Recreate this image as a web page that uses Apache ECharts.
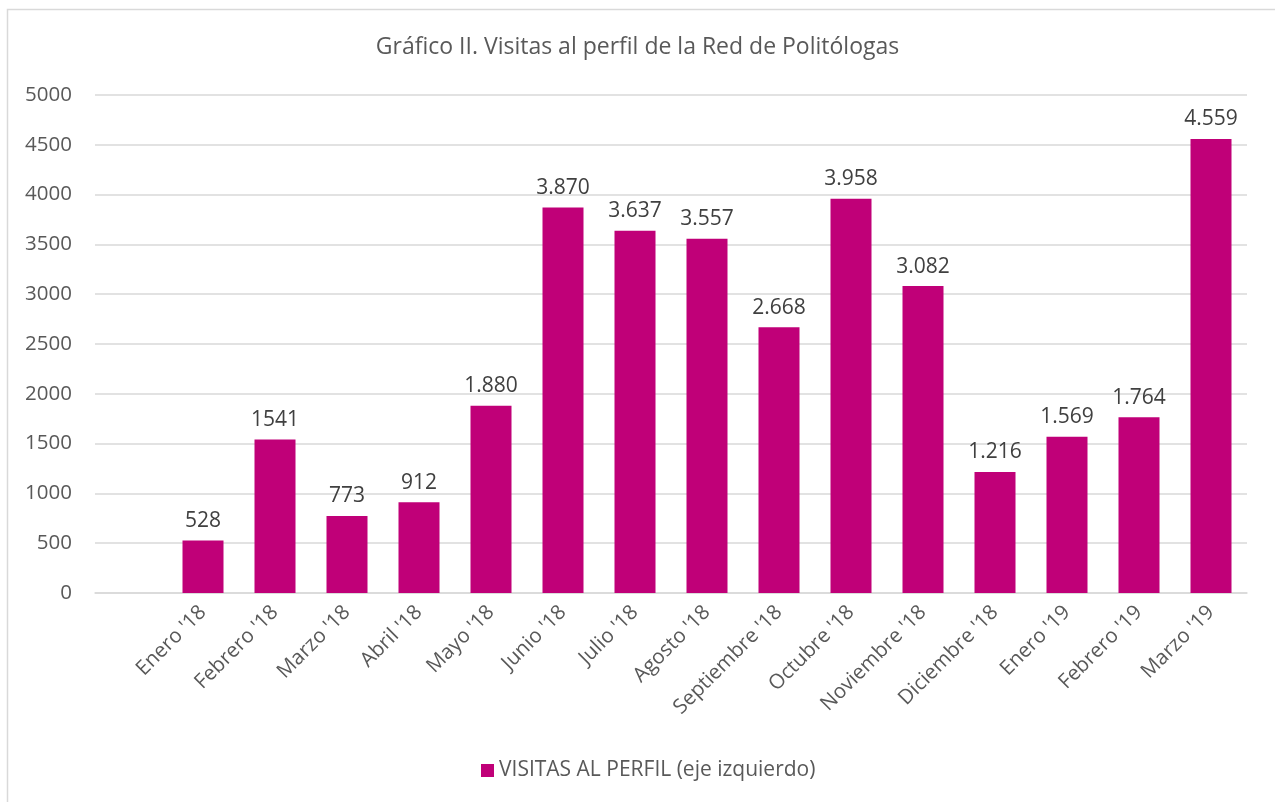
<!DOCTYPE html>
<html>
<head>
<meta charset="utf-8">
<script src="https://cdn.jsdelivr.net/npm/echarts@6/dist/echarts.min.js"></script>
<style>html,body{margin:0;padding:0;background:#fff;}#c{width:1275px;height:802px;}</style>
</head>
<body>
<div id="c"></div>
<script>
const categories = ['', "Enero '18", "Febrero '18", "Marzo '18", "Abril '18", "Mayo '18", "Junio '18", "Julio '18", "Agosto '18", "Septiembre '18", "Octubre '18", "Noviembre '18", "Diciembre '18", "Enero '19", "Febrero '19", "Marzo '19"];
const visitas = [null, 528, 1541, 773, 912, 1880, 3870, 3637, 3557, 2668, 3958, 3082, 1216, 1569, 1764, 4559];
const etiquetas = ['', '528', '1541', '773', '912', '1.880', '3.870', '3.637', '3.557', '2.668', '3.958', '3.082', '1.216', '1.569', '1.764', '4.559'];
const yTicks = [0, 500, 1000, 1500, 2000, 2500, 3000, 3500, 4000, 4500, 5000];

const FONT = '"Open Sans", sans-serif';
const chart = echarts.init(document.getElementById('c'));
chart.setOption({
  animation: false,
  backgroundColor: '#ffffff',
  title: {
    text: 'Gráfico II. Visitas al perfil de la Red de Politólogas',
    left: 'center', top: 31,
    textStyle: { fontFamily: FONT, fontSize: 23, fontWeight: 'normal', color: '#595959' }
  },
  graphic: [{
    type: 'rect', silent: true, z: -10,
    shape: { x: 7.5, y: 9.5, width: 1400, height: 1000 },
    style: { fill: 'none', stroke: '#d9d9d9', lineWidth: 1.5 }
  }],
  legend: {
    bottom: 16, left: 476,
    itemWidth: 13, itemHeight: 13, icon: 'rect',
    textStyle: { fontFamily: FONT, fontSize: 21, color: '#595959' },
    data: ['VISITAS AL PERFIL (eje izquierdo)']
  },
  grid: { left: 95, right: 28, top: 95, bottom: 209, containLabel: false },
  xAxis: {
    type: 'category', data: categories,
    axisLine: { lineStyle: { color: '#d9d9d9', width: 1.5 } },
    axisTick: { show: false },
    axisLabel: { rotate: 45, interval: 0, margin: 16, fontFamily: FONT, fontSize: 20.5, color: '#595959' }
  },
  yAxis: {
    type: 'value', min: yTicks[0], max: yTicks[yTicks.length - 1], interval: 500,
    axisLine: { show: false }, axisTick: { show: false },
    splitLine: { lineStyle: { color: '#d9d9d9', width: 1.5 } },
    axisLabel: { margin: 23, fontFamily: FONT, fontSize: 20.5, color: '#595959', formatter: v => String(v) }
  },
  series: [{
    name: 'VISITAS AL PERFIL (eje izquierdo)',
    type: 'bar', data: visitas, barWidth: 41,
    itemStyle: { color: '#C00078' },
    label: {
      show: true, position: 'top', distance: 9,
      fontFamily: FONT, fontSize: 21, color: '#404040',
      formatter: p => etiquetas[p.dataIndex]
    }
  }]
});
</script>
</body>
</html>
